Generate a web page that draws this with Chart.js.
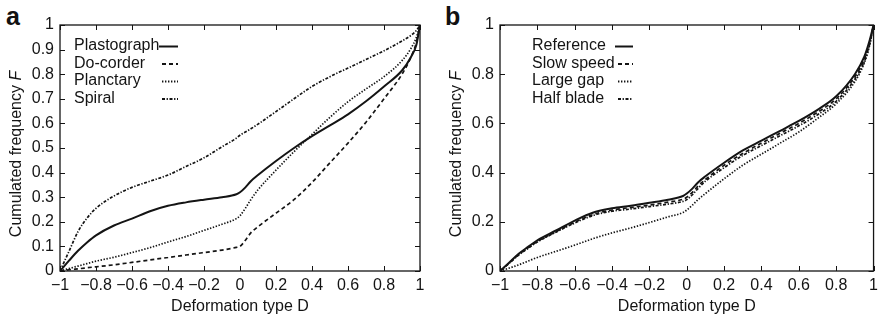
<!DOCTYPE html>
<html>
<head>
<meta charset="utf-8">
<script src="https://cdn.jsdelivr.net/npm/chart.js@4.4.1/dist/chart.umd.min.js"></script>
<style>
  body { margin: 0; background: #fff; }
  #wrap { position: relative; width: 883px; height: 321px; overflow: hidden; }
  canvas { position: absolute; top: 0; }
  .tag { position: absolute; top: 4px; font: bold 25px 'Liberation Sans', Arial, sans-serif; line-height: 25px; color: #111; }
</style>
</head>
<body>
<div id="wrap">
  <div class="tag" style="left:6px">a</div>
  <div class="tag" style="left:445px">b</div>
  <canvas id="panelA" width="440" height="321" style="left:0"></canvas>
  <canvas id="panelB" width="443" height="321" style="left:440px"></canvas>
</div>
<script>
// valeurs
const deformation = [-1, -0.95, -0.9, -0.85, -0.8, -0.7, -0.6, -0.5, -0.4, -0.3, -0.2, -0.1, -0.02, 0, 0.03, 0.06, 0.1, 0.2, 0.3, 0.4, 0.5, 0.6, 0.7, 0.8, 0.9, 0.95, 0.98, 1];

// panneau a
const plastograph = [0, 0.042, 0.082, 0.116, 0.145, 0.185, 0.213, 0.243, 0.265, 0.279, 0.29, 0.3, 0.312, 0.32, 0.34, 0.365, 0.39, 0.447, 0.5, 0.548, 0.592, 0.637, 0.69, 0.75, 0.815, 0.87, 0.92, 1];
const doCorder    = [0, 0.005, 0.009, 0.013, 0.017, 0.025, 0.035, 0.045, 0.055, 0.065, 0.075, 0.085, 0.096, 0.1, 0.125, 0.155, 0.18, 0.235, 0.29, 0.36, 0.44, 0.52, 0.605, 0.7, 0.8, 0.87, 0.93, 1];
const planctary   = [0, 0.01, 0.02, 0.03, 0.04, 0.056, 0.075, 0.095, 0.118, 0.14, 0.165, 0.19, 0.213, 0.225, 0.255, 0.29, 0.33, 0.41, 0.485, 0.555, 0.625, 0.688, 0.74, 0.79, 0.855, 0.905, 0.95, 1];
const spiral      = [0, 0.08, 0.16, 0.215, 0.255, 0.305, 0.34, 0.365, 0.39, 0.425, 0.46, 0.505, 0.54, 0.552, 0.565, 0.578, 0.597, 0.648, 0.7, 0.75, 0.79, 0.825, 0.86, 0.895, 0.935, 0.958, 0.978, 1];

// panneau b
const reference  = [0, 0.035, 0.07, 0.098, 0.125, 0.165, 0.205, 0.238, 0.255, 0.265, 0.277, 0.29, 0.305, 0.315, 0.335, 0.36, 0.385, 0.44, 0.49, 0.53, 0.57, 0.61, 0.655, 0.71, 0.8, 0.87, 0.94, 1];
const slowSpeed  = [0, 0.033, 0.067, 0.094, 0.12, 0.16, 0.198, 0.23, 0.248, 0.258, 0.268, 0.28, 0.292, 0.3, 0.32, 0.345, 0.372, 0.43, 0.478, 0.52, 0.56, 0.6, 0.645, 0.7, 0.79, 0.86, 0.93, 1];
const largeGap   = [0, 0.012, 0.025, 0.04, 0.055, 0.08, 0.105, 0.132, 0.155, 0.175, 0.197, 0.22, 0.238, 0.248, 0.268, 0.29, 0.315, 0.375, 0.43, 0.475, 0.52, 0.565, 0.62, 0.68, 0.77, 0.845, 0.92, 1];
const halfBlade  = [0, 0.032, 0.065, 0.092, 0.118, 0.158, 0.195, 0.226, 0.243, 0.252, 0.262, 0.272, 0.283, 0.29, 0.31, 0.335, 0.365, 0.42, 0.47, 0.51, 0.55, 0.59, 0.635, 0.69, 0.78, 0.85, 0.925, 1];

const xTicks = [-1, -0.8, -0.6, -0.4, -0.2, 0, 0.2, 0.4, 0.6, 0.8, 1];
const xTickLabels = ['\u22121', '\u22120.8', '\u22120.6', '\u22120.4', '\u22120.2', '0', '0.2', '0.4', '0.6', '0.8', '1'];
const yTicksA = [0, 0.1, 0.2, 0.3, 0.4, 0.5, 0.6, 0.7, 0.8, 0.9, 1];
const yTickLabelsA = ['0', '0.1', '0.2', '0.3', '0.4', '0.5', '0.6', '0.7', '0.8', '0.9', '1'];
const yTicksB = [0, 0.2, 0.4, 0.6, 0.8, 1];
const yTickLabelsB = ['0', '0.2', '0.4', '0.6', '0.8', '1'];

const FONT = "'Liberation Sans', Arial, sans-serif";
const SIZE = 16;
const INK = '#141414';

const DASH = {
  solid: [],
  dashed: [4, 3],
  dotted: [1.4, 1.6],
  dashdot: [3, 1.6, 1.3, 1.6]
};

function serie(label, ys, dash) {
  return {
    label: label,
    data: deformation.map((x, i) => ({ x: x, y: ys[i] })),
    borderColor: INK,
    borderWidth: dash.length ? 1.7 : 2,
    borderDash: dash,
    pointRadius: 0,
    fill: false,
    cubicInterpolationMode: 'monotone'
  };
}

// cadre + graduations vers l'intérieur (style gnuplot)
const cadre = {
  id: 'cadre',
  afterDraw(chart) {
    const ctx = chart.ctx;
    const a = chart.chartArea;
    const xs = chart.scales.x, ys = chart.scales.y;
    ctx.save();
    ctx.strokeStyle = INK;
    ctx.lineWidth = 1.3;
    ctx.setLineDash([]);
    ctx.strokeRect(a.left, a.top, a.right - a.left, a.bottom - a.top);
    ctx.lineWidth = 1;
    ctx.beginPath();
    xs.ticks.forEach(t => {
      const px = Math.round(xs.getPixelForValue(t.value)) + 0.5;
      ctx.moveTo(px, a.bottom); ctx.lineTo(px, a.bottom - 5);
      ctx.moveTo(px, a.top); ctx.lineTo(px, a.top + 5);
    });
    ys.ticks.forEach(t => {
      const py = Math.round(ys.getPixelForValue(t.value)) + 0.5;
      ctx.moveTo(a.left, py); ctx.lineTo(a.left + 5, py);
      ctx.moveTo(a.right, py); ctx.lineTo(a.right - 5, py);
    });
    ctx.stroke();
    ctx.restore();
  }
};

// titres des axes (F en italique) et légende à droite du texte
const textes = {
  id: 'textes',
  afterDraw(chart, args, opts) {
    const ctx = chart.ctx;
    const a = chart.chartArea;
    const f = SIZE + 'px ' + FONT;
    const fi = 'italic ' + SIZE + 'px ' + FONT;
    ctx.save();
    ctx.fillStyle = INK;
    ctx.textBaseline = 'middle';

    // titre x
    ctx.font = f;
    ctx.textAlign = 'center';
    ctx.fillText('Deformation type D', (a.left + a.right) / 2, 306.5);

    // titre y
    const part1 = 'Cumulated frequency ';
    const w1 = ctx.measureText(part1).width;
    ctx.font = fi;
    const w2 = ctx.measureText('F').width;
    ctx.translate(16.5, (a.top + a.bottom) / 2 + 6);
    ctx.rotate(-Math.PI / 2);
    ctx.textAlign = 'left';
    ctx.font = f;
    ctx.fillText(part1, -(w1 + w2) / 2, 0);
    ctx.font = fi;
    ctx.fillText('F', -(w1 + w2) / 2 + w1, 0);
    ctx.setTransform(1, 0, 0, 1, 0, 0);

    // légende
    ctx.font = f;
    ctx.textAlign = 'left';
    chart.data.datasets.forEach((ds, i) => {
      const y = opts.y + i * opts.dy;
      ctx.fillText(ds.label, opts.x, y);
      ctx.beginPath();
      ctx.lineWidth = 2;
      ctx.strokeStyle = INK;
      ctx.setLineDash(ds.borderDash);
      ctx.moveTo(ds.borderDash.length ? opts.x1 + 3 : opts.x1, y + 0.5);
      ctx.lineTo(opts.x2, y + 0.5);
      ctx.stroke();
    });
    ctx.restore();
  }
};

function panneau(id, datasets, yTicks, yLabels, legende, padRight) {
  new Chart(document.getElementById(id), {
    type: 'line',
    data: { datasets: datasets },
    plugins: [cadre, textes],
    options: {
      responsive: false,
      animation: false,
      layout: { padding: { top: 25, right: padRight, left: 0, bottom: 0 } },
      scales: {
        x: {
          type: 'linear',
          min: -1, max: 1,
          grid: { display: false, drawTicks: false },
          border: { display: false },
          afterBuildTicks: s => { s.ticks = xTicks.map(v => ({ value: v })); },
          afterFit: s => { s.height = 50; },
          ticks: {
            padding: 5,
            color: INK,
            font: { family: FONT, size: SIZE },
            maxRotation: 0,
            autoSkip: false,
            callback: (v, i) => xTickLabels[i]
          }
        },
        y: {
          min: 0, max: 1,
          grid: { display: false, drawTicks: false },
          border: { display: false },
          afterBuildTicks: s => { s.ticks = yTicks.map(v => ({ value: v })); },
          afterFit: s => { s.width = 60; },
          ticks: {
            padding: 6,
            color: INK,
            font: { family: FONT, size: SIZE },
            autoSkip: false,
            callback: (v, i) => yLabels[i]
          }
        }
      },
      plugins: {
        legend: { display: false },
        tooltip: { enabled: false },
        textes: legende
      }
    }
  });
}

panneau('panelA', [
  serie('Plastograph', plastograph, DASH.solid),
  serie('Do-corder', doCorder, DASH.dashed),
  serie('Planctary', planctary, DASH.dotted),
  serie('Spiral', spiral, DASH.dashdot)
], yTicksA, yTickLabelsA, { x: 74, y: 46, dy: 17.5, x1: 159, x2: 178 }, 20);

panneau('panelB', [
  serie('Reference', reference, DASH.solid),
  serie('Slow speed', slowSpeed, DASH.dashed),
  serie('Large gap', largeGap, DASH.dotted),
  serie('Half blade', halfBlade, DASH.dashdot)
], yTicksB, yTickLabelsB, { x: 92, y: 46, dy: 17.5, x1: 175, x2: 193 }, 5);
</script>
</body>
</html>
